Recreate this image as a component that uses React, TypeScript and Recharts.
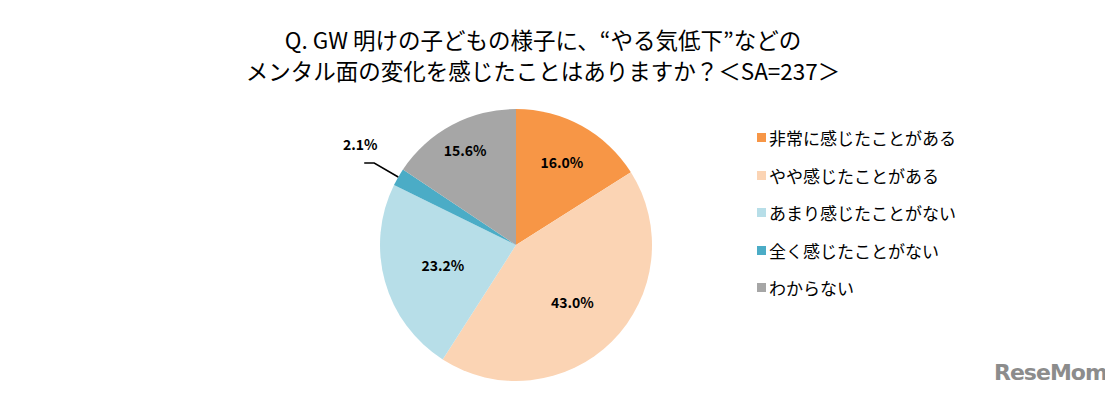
import { PieChart, Pie, Cell, Legend } from 'recharts';

const categories = ['非常に感じたことがある', 'やや感じたことがある', 'あまり感じたことがない', '全く感じたことがない', 'わからない'];
const shares = [16.0, 43.0, 23.2, 2.1, 15.6];
const colors = ['#F79646', '#FBD4B4', '#B7DEE8', '#4BACC6', '#A6A6A6'];

const titleLines = ['Q. GW 明けの子どもの様子に、“やる気低下”などの', 'メンタル面の変化を感じたことはありますか？＜SA=237＞'];

const data = categories.map((name, i) => ({ name, value: shares[i] }));

const FONT = '"Noto Sans CJK JP", "Noto Sans", sans-serif';
const RAD = Math.PI / 180;
// label distance from centre for each slice
const labelR = [95, 80, 76, 0, 108];

const renderLabel = (props: any) => {
    const { cx, cy, midAngle, outerRadius, index, value } = props;
    const cos = Math.cos(-midAngle * RAD);
    const sin = Math.sin(-midAngle * RAD);
    const text = `${value.toFixed(1)}%`;
    if (index === 3) {
        const sx = cx + outerRadius * cos;
        const sy = cy + outerRadius * sin;
        const mx = sx - 24;
        const my = sy - 14;
        return (
            <g>
                <polyline points={`${sx},${sy} ${mx},${my} ${mx - 10},${my}`} fill="none" stroke="#000" strokeWidth={1.5} />
                <text x={mx - 14} y={my - 19} textAnchor="middle" dominantBaseline="central" fontSize={14} fontWeight="bold" fill="#000" fontFamily={FONT}>
                    {text}
                </text>
            </g>
        );
    }
    const r = labelR[index];
    return (
        <text x={cx + r * cos} y={cy + r * sin} textAnchor="middle" dominantBaseline="central" fontSize={14} fontWeight="bold" fill="#000" fontFamily={FONT}>
            {text}
        </text>
    );
};

const renderLegend = () => (
    <div style={{ fontFamily: FONT, fontSize: 17, color: '#000' }}>
        {categories.map((c, i) => (
            <div key={c} style={{ display: 'flex', alignItems: 'center', height: 37.5 }}>
                <span style={{ width: 9, height: 9, background: colors[i], marginRight: 3 }} />
                <span>{c}</span>
            </div>
        ))}
    </div>
);

export default function App() {
    return (
        <div style={{ position: 'absolute', left: 0, top: 0, width: 1105, height: 397, background: '#fff', fontFamily: FONT }}>
            <div style={{ position: 'absolute', top: 24, width: 1086, textAlign: 'center', fontSize: 22.5, lineHeight: '31px', color: '#000' }}>
                {titleLines.map((t) => (
                    <div key={t}>{t}</div>
                ))}
            </div>
            <PieChart width={1105} height={397} margin={{ top: 0, right: 0, bottom: 0, left: 0 }}>
                <Pie
                    data={data}
                    dataKey="value"
                    nameKey="name"
                    cx={516}
                    cy={245}
                    outerRadius={136}
                    startAngle={90}
                    endAngle={-270}
                    stroke="none"
                    label={renderLabel}
                    labelLine={false}
                    isAnimationActive={false}
                >
                    {data.map((d, i) => (
                        <Cell key={d.name} fill={colors[i]} />
                    ))}
                </Pie>
                <Legend
                    layout="vertical"
                    content={renderLegend}
                    wrapperStyle={{ left: 757, top: 119, width: 230 }}
                />
            </PieChart>
            <div style={{ position: 'absolute', left: 994, top: 360, fontFamily: '"DejaVu Sans", sans-serif', fontWeight: 'bold', fontSize: 22, color: '#8c8c8c', letterSpacing: -1 }}>
                ReseMom
            </div>
        </div>
    );
}
